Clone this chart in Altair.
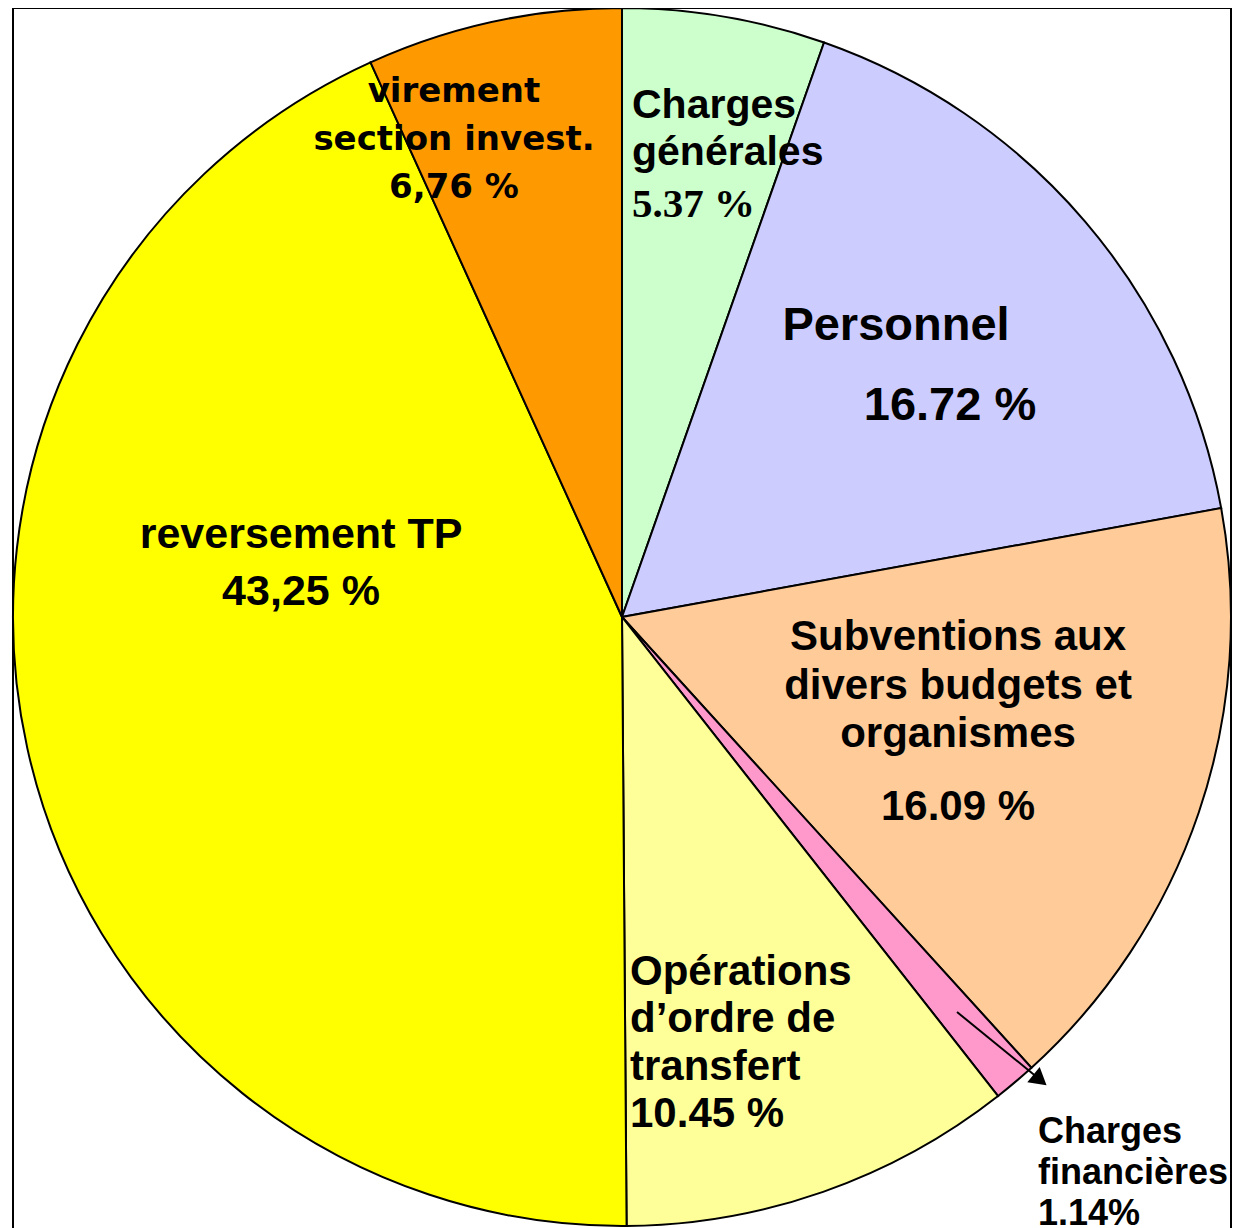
import altair as alt
import pandas as pd

# ---- data ----
categories = ["Charges générales", "Personnel", "Subventions aux divers budgets et organismes",
              "Charges financières", "Opérations d'ordre de transfert", "reversement TP",
              "virement section invest."]
values = [5.37, 16.72, 16.09, 1.14, 10.45, 43.25, 6.76]
colors = ["#CCFFCC", "#CCCCFF", "#FFCC99", "#FF99CC", "#FFFF99", "#FFFF00", "#FF9900"]

df = pd.DataFrame({"cat": categories, "value": values, "order": list(range(len(values)))})

# ---- layout ----
R = 609
W = 1218
H = 1232
xs = alt.Scale(domain=[-R, W - R], range=[0, W])
ys = alt.Scale(domain=[-R, H - R], range=[0, H])

pie = alt.Chart(df).mark_arc(outerRadius=R, stroke="black", strokeWidth=2).encode(
    theta=alt.Theta("value:Q", stack=True),
    order=alt.Order("order:Q"),
    color=alt.Color("cat:N", scale=alt.Scale(domain=categories, range=colors), legend=None),
    x=alt.value(R),
    y=alt.value(R),
)


def label(text, dx, dy, size, align="left", font="Liberation Sans", weight="bold", lh=48):
    d = pd.DataFrame({"x": [dx], "y": [dy], "t": [text]})
    return alt.Chart(d).mark_text(
        align=align, baseline="alphabetic", font=font, fontSize=size, fontWeight=weight,
        lineBreak="\n", lineHeight=lh, color="black",
    ).encode(
        x=alt.X("x:Q", scale=xs, axis=None),
        y=alt.Y("y:Q", scale=ys, axis=None),
        text="t:N",
    )


labels = [
    label("Charges\ngénérales", 10, -499, 41, lh=47),
    label("5.37 %", 10, -400, 41, font="Liberation Serif"),
    label("Personnel", 274, -277, 47, align="center"),
    label("16.72 %", 328, -197, 47, align="center"),
    label("Subventions aux\ndivers budgets et\norganismes", 336, 33, 42, align="center", lh=48.5),
    label("16.09 %", 336, 203, 42, align="center"),
    label("Opérations\nd’ordre de\ntransfert\n10.45 %", 8, 368, 42, lh=47.3),
    label("reversement TP\n43,25 %", -321, -69, 43, align="center", lh=57),
    label("virement\nsection invest.\n6,76 %", -168, -515, 34, align="center",
          font="DejaVu Sans", lh=48),
    label("Charges\nfinancières\n1.14%", 416, 526, 36, lh=41),
]

arrow_line = pd.DataFrame({"x": [335], "y": [395], "x2": [416], "y2": [461]})
arrow = alt.Chart(arrow_line).mark_rule(color="black", strokeWidth=2).encode(
    x=alt.X("x:Q", scale=xs, axis=None),
    y=alt.Y("y:Q", scale=ys, axis=None),
    x2="x2:Q",
    y2="y2:Q",
)
head = alt.Chart(pd.DataFrame({"x": [418], "y": [463]})).mark_point(
    shape="triangle-right", filled=True, color="black", opacity=1, size=380, angle=39.5
).encode(
    x=alt.X("x:Q", scale=xs, axis=None),
    y=alt.Y("y:Q", scale=ys, axis=None),
)

chart = alt.layer(pie, *labels, arrow, head).properties(
    width=W, height=H,
    padding={"left": 5, "top": 0, "right": 10, "bottom": 0},
    autosize=alt.AutoSizeParams(type="none"),
).configure_view(stroke="black", strokeWidth=2)

chart.save("out.html", embed_options={"renderer": "svg", "actions": False})
